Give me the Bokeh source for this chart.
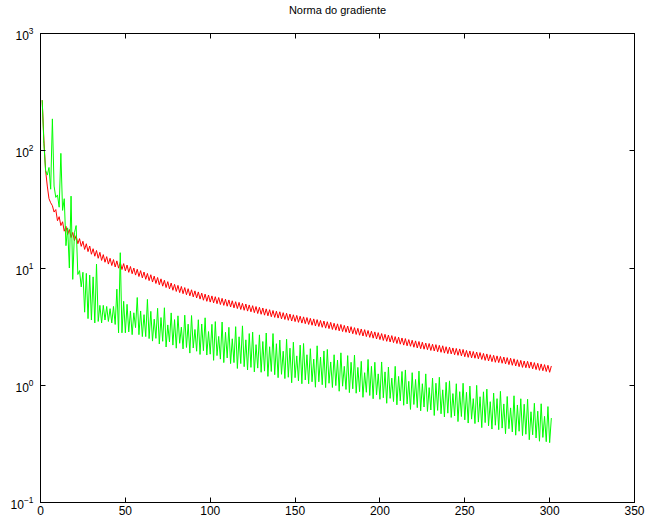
from bokeh.plotting import figure
from bokeh.models import Range1d, FixedTicker, LinearAxis, LogAxis, LogTicker, CustomJSTickFormatter
from bokeh.embed import file_html
from bokeh.resources import INLINE

title_text = "Norma do gradiente"
x_ticks = [0, 50, 100, 150, 200, 250, 300, 350]

iters = list(range(1, 302))

red = [270, 123, 68, 50, 39, 36, 34, 30.0, 31.5, 25.3,
       27.4, 23.0, 24.8, 20.6, 22.7, 19.3, 21.3, 18.2, 20.1, 17.1,
       18.9, 16.1, 17.8, 15.3, 16.9, 14.4, 16.1, 13.8, 15.4, 13.1,
       14.6, 12.6, 14.1, 12.1, 13.6, 11.6, 13.0, 11.2, 12.5, 10.8,
       12.1, 10.5, 11.8, 10.2, 11.5, 9.97, 11.2, 9.71, 10.9, 9.45,
       10.6, 9.18, 10.3, 8.94, 10.0, 8.70, 9.76, 8.46, 9.50, 8.23,
       9.24, 8.01, 8.99, 7.80, 8.76, 7.59, 8.53, 7.38, 8.30, 7.19,
       8.08, 7.00, 7.86, 6.81, 7.65, 6.63, 7.45, 6.46, 7.26, 6.31,
       7.11, 6.17, 6.96, 6.04, 6.81, 5.91, 6.66, 5.79, 6.52, 5.67,
       6.38, 5.55, 6.25, 5.43, 6.11, 5.31, 5.99, 5.20, 5.88, 5.12,
       5.78, 5.04, 5.69, 4.96, 5.60, 4.88, 5.51, 4.80, 5.42, 4.72,
       5.34, 4.65, 5.25, 4.57, 5.16, 4.51, 5.09, 4.43, 5.00, 4.36,
       4.93, 4.29, 4.84, 4.23, 4.77, 4.16, 4.69, 4.09, 4.62, 4.03,
       4.56, 3.96, 4.48, 3.91, 4.41, 3.84, 4.34, 3.79, 4.28, 3.74,
       4.23, 3.68, 4.16, 3.64, 4.11, 3.58, 4.05, 3.53, 3.99, 3.49,
       3.94, 3.44, 3.88, 3.39, 3.83, 3.35, 3.78, 3.30, 3.72, 3.25,
       3.68, 3.20, 3.63, 3.17, 3.57, 3.12, 3.53, 3.07, 3.48, 3.04,
       3.44, 2.99, 3.38, 2.95, 3.34, 2.91, 3.30, 2.87, 3.24, 2.83,
       3.20, 2.79, 3.16, 2.75, 3.10, 2.71, 3.06, 2.67, 3.02, 2.63,
       2.98, 2.60, 2.93, 2.56, 2.89, 2.52, 2.85, 2.48, 2.81, 2.45,
       2.76, 2.41, 2.72, 2.37, 2.68, 2.34, 2.65, 2.31, 2.60, 2.27,
       2.57, 2.24, 2.53, 2.20, 2.50, 2.17, 2.45, 2.15, 2.42, 2.11,
       2.39, 2.08, 2.36, 2.05, 2.33, 2.03, 2.29, 2.01, 2.27, 1.98,
       2.24, 1.96, 2.22, 1.93, 2.19, 1.91, 2.17, 1.88, 2.13, 1.86,
       2.11, 1.85, 2.08, 1.82, 2.06, 1.80, 2.04, 1.78, 2.02, 1.75,
       1.98, 1.73, 1.96, 1.71, 1.94, 1.70, 1.92, 1.68, 1.90, 1.66,
       1.87, 1.63, 1.85, 1.61, 1.82, 1.59, 1.80, 1.57, 1.78, 1.56,
       1.76, 1.54, 1.74, 1.52, 1.72, 1.50, 1.70, 1.48, 1.68, 1.46,
       1.65, 1.44, 1.63, 1.42, 1.61, 1.41, 1.60, 1.40, 1.58, 1.38,
       1.56, 1.36, 1.54, 1.34, 1.52, 1.33, 1.50, 1.31, 1.48, 1.29,
       1.46]

green = [270, 115, 68, 62, 72, 47, 187, 50, 40, 42,
         33, 95, 31, 39, 15.5, 22, 10, 41, 8.0, 20,
         23, 8.8, 9.5, 6.9, 9.2, 4.2, 9.0, 3.7, 8.7, 3.6,
         8.4, 3.4, 10.8, 3.5, 4.8, 3.4, 4.8, 3.6, 4.7, 3.5,
         4.5, 3.4, 4.7, 3.3, 6.6, 2.8, 13.5, 2.8, 5.2, 2.8,
         4.9, 2.85, 4.3, 2.7, 4.15, 3.1, 5.6, 2.7, 4.3, 2.6,
         4.0, 2.6, 5.4, 2.5, 4.27, 2.38, 3.66, 2.51, 4.53, 2.25,
         3.78, 2.37, 4.58, 2.12, 3.27, 2.34, 4.14, 2.20, 3.63, 2.07,
         3.91, 2.28, 3.13, 2.04, 3.96, 2.10, 3.32, 1.88, 3.93, 2.08,
         2.99, 1.95, 3.62, 1.83, 3.33, 1.97, 3.76, 1.81, 2.87, 1.84,
         3.31, 1.63, 3.49, 1.79, 2.61, 1.67, 3.46, 1.56, 2.83, 1.71,
         3.12, 1.53, 2.49, 1.56, 3.16, 1.39, 2.59, 1.53, 3.21, 1.44,
         2.44, 1.35, 2.76, 1.42, 2.84, 1.30, 2.22, 1.40, 2.69, 1.29,
         2.36, 1.32, 2.79, 1.19, 2.13, 1.31, 2.76, 1.23, 2.26, 1.16,
         2.43, 1.24, 1.95, 1.14, 2.47, 1.17, 2.07, 1.05, 2.33, 1.16,
         1.78, 1.09, 2.20, 1.03, 2.27, 1.11, 1.82, 1.03, 2.05, 1.07,
         1.67, 0.962, 2.17, 1.07, 1.74, 1.01, 1.96, 0.955, 2.02, 1.04,
         1.58, 0.957, 1.82, 0.993, 1.64, 0.889, 1.89, 0.982, 1.45, 0.920,
         1.79, 0.865, 1.57, 0.933, 1.81, 0.855, 1.42, 0.881, 1.60, 0.789,
         1.28, 0.871, 1.66, 0.818, 1.45, 0.767, 1.57, 0.828, 1.25, 0.759,
         1.58, 0.782, 1.30, 0.702, 1.43, 0.773, 1.15, 0.726, 1.45, 0.681,
         1.19, 0.735, 1.31, 0.675, 1.35, 0.693, 1.08, 0.622, 1.28, 0.685,
         1.12, 0.644, 1.32, 0.605, 1.03, 0.652, 1.25, 0.598, 0.955, 0.615,
         1.15, 0.552, 1.04, 0.610, 1.17, 0.571, 0.914, 0.537, 1.06, 0.578,
         1.09, 0.531, 0.849, 0.547, 1.03, 0.490, 0.881, 0.541, 1.04, 0.507,
         0.871, 0.476, 0.984, 0.514, 0.769, 0.471, 0.998, 0.485, 0.798, 0.435,
         0.879, 0.480, 0.927, 0.451, 0.724, 0.423, 0.857, 0.456, 0.769, 0.418,
         0.887, 0.431, 0.693, 0.386, 0.802, 0.426, 0.641, 0.400, 0.813, 0.375,
         0.679, 0.405, 0.767, 0.372, 0.689, 0.382, 0.760, 0.343, 0.594, 0.378,
         0.702, 0.355, 0.601, 0.333, 0.695, 0.359, 0.543, 0.330, 0.658, 0.324,
         0.525]

FONT = "Liberation Sans"

p = figure(width=646, height=519, x_range=Range1d(0, 350), y_range=Range1d(0.1, 1000),
           y_axis_type="log", output_backend="svg", toolbar_location=None)
p.min_border_left = 40
p.min_border_right = 12
p.min_border_top = 33
p.min_border_bottom = 17
p.background_fill_color = "white"
p.border_fill_color = "white"
p.outline_line_color = "black"
p.outline_line_width = 1
p.xgrid.visible = False
p.ygrid.visible = False

def style_axis(ax):
    ax.axis_line_color = "black"
    ax.major_tick_line_color = "black"
    ax.major_tick_in = 5
    ax.major_tick_out = 0
    ax.minor_tick_line_color = None
    ax.major_label_text_font = FONT
    ax.major_label_text_font_size = "12px"
    ax.major_label_text_color = "black"
    ax.major_label_standoff = 3

xa = p.xaxis[0]
xa.ticker = FixedTicker(ticks=x_ticks)
style_axis(xa)
ya = p.yaxis[0]
ya.ticker = LogTicker(desired_num_ticks=5)
style_axis(ya)

blank = CustomJSTickFormatter(code="return ''")

# top axis: ticks only, and it carries the chart title as its label
top = LinearAxis(ticker=FixedTicker(ticks=x_ticks), formatter=blank, axis_label=title_text)
style_axis(top)
top.major_label_standoff = 0
top.axis_label_standoff = 18
top.axis_label_text_font = FONT
top.axis_label_text_font_size = "11px"
top.axis_label_text_font_style = "normal"
top.axis_label_text_color = "black"
p.add_layout(top, "above")

right = LogAxis(ticker=LogTicker(desired_num_ticks=5), formatter=blank)
style_axis(right)
right.major_label_standoff = 0
p.add_layout(right, "right")

p.line(iters, red, line_color="#ff0000", line_width=1)
p.line(iters, green, line_color="#00ff00", line_width=1)

open("out.html", "w").write(file_html(p, INLINE))
